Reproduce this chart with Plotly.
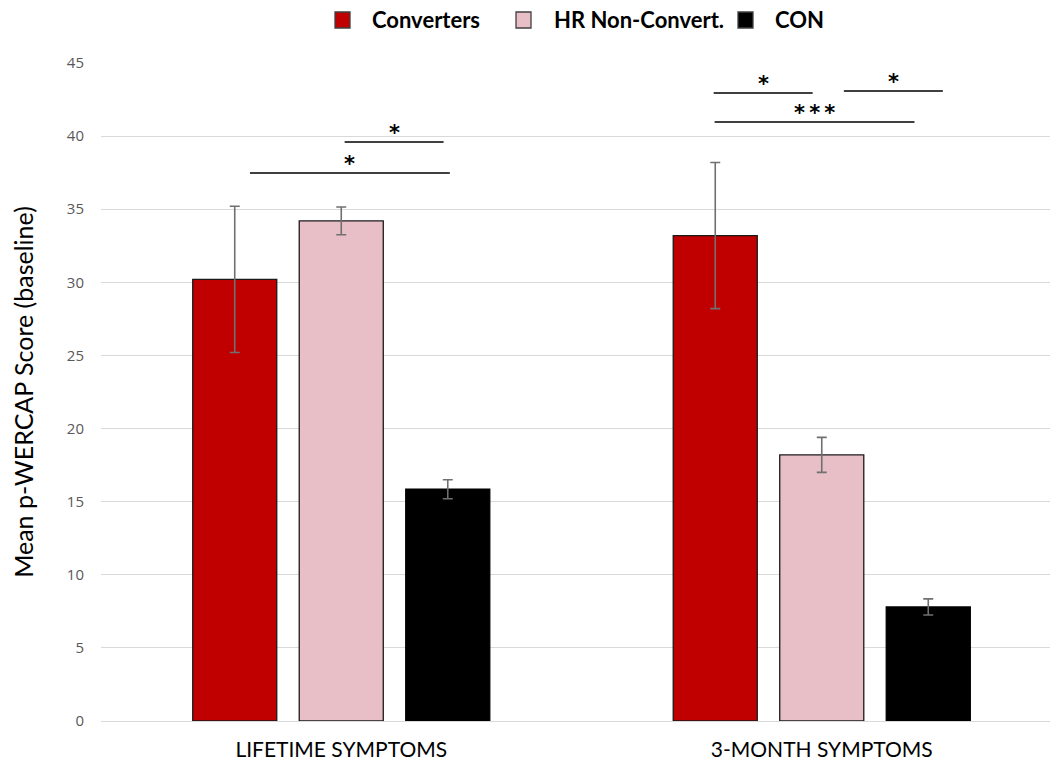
import plotly.graph_objects as go

# Symptom windows on the x axis
categories = ["LIFETIME SYMPTOMS", "3-MONTH SYMPTOMS"]

# Group means and error half-widths (p-WERCAP, baseline)
groups = ["Converters", "HR Non-Convert.", "CON"]
converters_mean = [30.2, 33.2]
converters_err = [5.0, 5.0]
hr_nonconvert_mean = [34.2, 18.2]
hr_nonconvert_err = [0.95, 1.2]
con_mean = [15.85, 7.8]
con_err = [0.65, 0.55]

# Significance brackets: (x start, x end, y, label), x in category units
brackets = [
    (-0.19, 0.226, 37.48, "*"),
    (0.007, 0.213, 39.6, "*"),
    (0.775, 0.981, 42.95, "*"),
    (1.046, 1.252, 43.09, "*"),
    (0.777, 1.193, 40.96, "*\u2009*\u2009*"),
]

fill_colors = ["#C00000", "#E8BEC7", "#000000"]
outline_colors = ["#1a1a1a", "#1a1a1a", "#000000"]
means = [converters_mean, hr_nonconvert_mean, con_mean]
errs = [converters_err, hr_nonconvert_err, con_err]

# Plot-area geometry in pixels (used to place the hand-drawn legend)
W, H = 1051, 765
ML, MR, MT, MB = 101, 1, 63, 44
PW, PH = W - ML - MR, H - MT - MB
legend_square_left = [335, 516, 738]
legend_text_left = [370, 552, 773]
legend_y = 20


def px_x(px):
    return (px - ML) / PW


def px_y(py):
    return (H - MB - py) / PH


fig = go.Figure()
for name, m, e, fc, oc in zip(groups, means, errs, fill_colors, outline_colors):
    fig.add_trace(go.Bar(
        name=name,
        x=categories,
        y=m,
        marker=dict(color=fc, line=dict(color=oc, width=1.3)),
        error_y=dict(type="data", array=e, visible=True,
                     color="#707070", thickness=1.6, width=5),
        showlegend=False,
    ))

# Legend drawn as squares + bold labels above the plot
for name, fc, sq, tx in zip(groups, fill_colors, legend_square_left, legend_text_left):
    fig.add_shape(type="rect", xref="paper", yref="paper",
                  x0=px_x(sq), x1=px_x(sq + 15),
                  y0=px_y(legend_y + 8), y1=px_y(legend_y - 8),
                  fillcolor=fc, line=dict(color="#404040", width=1.3))
    fig.add_annotation(xref="paper", yref="paper", x=px_x(tx), y=px_y(legend_y),
                       xanchor="left", yanchor="middle", text=name, showarrow=False,
                       font=dict(family="Lato", size=22, color="black", weight="bold"))

for x0, x1, y, label in brackets:
    fig.add_shape(type="line", x0=x0, x1=x1, y0=y, y1=y,
                  xref="x", yref="y", line=dict(color="black", width=1.6))
    fig.add_annotation(x=(x0 + x1) / 2, y=y, xref="x", yref="y",
                       text=label, showarrow=False, yanchor="middle", yshift=9,
                       font=dict(family="DejaVu Sans", size=21, color="black",
                                 weight="bold"))

fig.update_layout(
    width=W, height=H,
    margin=dict(l=ML, r=MR, t=MT, b=MB, autoexpand=False),
    paper_bgcolor="white", plot_bgcolor="white",
    barmode="group", bargap=0.335, bargroupgap=0.211,
    font=dict(family="Lato", color="black"),
    showlegend=False,
)

fig.update_xaxes(range=[-0.5, 1.475], showgrid=False, showline=False,
                 tickfont=dict(family="Lato", size=21, color="black"),
                 ticks="outside", ticklen=10, tickcolor="rgba(0,0,0,0)")
fig.update_yaxes(range=[0, 45], dtick=5, showgrid=True, gridcolor="#d9d9d9",
                 gridwidth=1, zeroline=True, zerolinecolor="#d9d9d9", zerolinewidth=1,
                 showline=False,
                 ticks="outside", ticklen=13, tickcolor="rgba(0,0,0,0)",
                 tickfont=dict(family="Open Sans", size=15, color="#595959"),
                 title=dict(text="Mean p-WERCAP Score (baseline)", standoff=26,
                            font=dict(family="Lato", size=25, color="black")))

fig.write_html("out.html")
